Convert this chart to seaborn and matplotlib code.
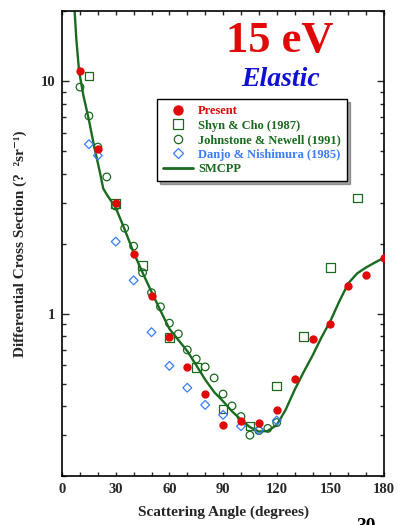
import numpy as np
import pandas as pd
import matplotlib
matplotlib.use('Agg')
import matplotlib.pyplot as plt
import matplotlib.ticker as mticker
from matplotlib.lines import Line2D
import seaborn as sns

sns.set_theme(style='ticks')
plt.rcParams['font.family'] = ['Liberation Serif', 'DejaVu Serif']
plt.rcParams['font.weight'] = 'bold'

C_RED = '#e00808'
C_GREEN = '#1a6a1f'
C_BLUE = '#3a7cff'

# ---- data ----
present_x = [10, 20, 30, 40, 50, 60, 70, 80, 90, 100, 110, 120, 130, 140, 150, 160, 170, 180]
present_y = [11.0, 5.1, 3.0, 1.81, 1.19, 0.79, 0.59, 0.45, 0.332, 0.346, 0.338, 0.386,
             0.526, 0.778, 0.90, 1.31, 1.46, 1.74]

shyn_x = [15, 30, 45, 60, 75, 90, 105, 120, 135, 150, 165]
shyn_y = [10.5, 2.97, 1.61, 0.79, 0.588, 0.389, 0.329, 0.489, 0.796, 1.58, 3.14]

john_x = [10, 15, 20, 25, 30, 35, 40, 45, 50, 55, 60, 65, 70, 75, 80, 85, 90,
          95, 100, 105, 110, 115, 120]
john_y = [9.42, 7.08, 5.2, 3.87, 2.90, 2.33, 1.95, 1.50, 1.23, 1.07, 0.91, 0.818,
          0.698, 0.638, 0.590, 0.529, 0.451, 0.401, 0.361, 0.300, 0.314, 0.321, 0.340]

danjo_x = [15, 20, 30, 40, 50, 60, 70, 80, 90, 100, 110, 120]
danjo_y = [5.35, 4.78, 2.04, 1.39, 0.832, 0.596, 0.480, 0.405, 0.367, 0.328, 0.316, 0.347]

smcpp_x = [7, 8, 9.5, 12, 15, 18, 21, 23, 25, 30, 35, 40, 45, 50, 55, 60, 65, 70, 75,
           80, 85, 90, 95, 100, 105, 110, 115, 120, 125, 130, 135, 140, 145, 150, 155,
           160, 165, 170, 175, 180]
smcpp_y = [20, 15, 11, 8.6, 6.8, 5.2, 4.1, 3.45, 3.25, 2.85, 2.3, 1.83, 1.5, 1.24, 1.03,
           0.86, 0.77, 0.69, 0.60, 0.52, 0.46, 0.42, 0.38, 0.35, 0.325, 0.311, 0.313,
           0.332, 0.386, 0.47, 0.56, 0.66, 0.79, 0.93, 1.13, 1.35, 1.49, 1.58, 1.66, 1.74]

fig = plt.figure(figsize=(3.98, 5.25), dpi=100)
ax = fig.add_axes([0.156, 0.093, 0.809, 0.886])

sns.lineplot(x=smcpp_x, y=smcpp_y, color=C_GREEN, linewidth=1.7, ax=ax, zorder=2)
sns.scatterplot(x=john_x, y=john_y, marker='o', s=30, facecolor='none',
                edgecolor=C_GREEN, linewidth=0.9, ax=ax, zorder=3)
sns.scatterplot(x=shyn_x, y=shyn_y, marker='s', s=38, facecolor='none',
                edgecolor=C_GREEN, linewidth=0.9, ax=ax, zorder=3)
sns.scatterplot(x=danjo_x, y=danjo_y, marker='D', s=20, facecolor='none',
                edgecolor=C_BLUE, linewidth=0.9, ax=ax, zorder=3)
sns.scatterplot(x=present_x, y=present_y, marker='o', s=36, color=C_RED,
                edgecolor=C_RED, linewidth=0, ax=ax, zorder=4)

ax.set_yscale('log')
ax.set_xlim(0, 180)
ax.set_ylim(0.2, 20)
ax.xaxis.set_major_locator(mticker.MultipleLocator(30))
ax.xaxis.set_minor_locator(mticker.MultipleLocator(10))
ax.yaxis.set_major_locator(mticker.FixedLocator([1, 10]))
ax.yaxis.set_major_formatter(mticker.FixedFormatter(['1', '10']))
ax.yaxis.set_minor_locator(mticker.LogLocator(base=10, subs=np.arange(2, 10)))
ax.yaxis.set_minor_formatter(mticker.NullFormatter())
ax.tick_params(which='both', direction='in', top=True, right=True, width=1.0,
               labelsize=10.5, pad=5)
ax.tick_params(which='major', length=5)
ax.tick_params(which='minor', length=3)
ax.tick_params(axis='x', which='major', length=3)
for lab in ax.get_xticklabels() + ax.get_yticklabels():
    lab.set_fontweight('bold')
for sp in ax.spines.values():
    sp.set_linewidth(1.2)
    sp.set_color('black')

ax.set_xlabel('Scattering Angle (degrees)', fontsize=11, fontweight='bold', labelpad=7)
ax.set_ylabel('Differential Cross Section (?  ²sr⁻¹)', fontsize=11,
              fontweight='bold', labelpad=10)

ax.text(0.675, 0.935, '15 eV', transform=ax.transAxes, ha='center', va='center',
        fontsize=32, fontweight='bold', color=C_RED)
ax.text(0.68, 0.853, 'Elastic', transform=ax.transAxes, ha='center', va='center',
        fontsize=20, fontweight='bold', style='italic', color='#1010d0')

handles = [
    Line2D([], [], marker='o', ls='none', color=C_RED, ms=6.5),
    Line2D([], [], marker='s', ls='none', mfc='none', mec=C_GREEN, ms=7, mew=0.9),
    Line2D([], [], marker='o', ls='none', mfc='none', mec=C_GREEN, ms=6, mew=0.9),
    Line2D([], [], marker='D', ls='none', mfc='none', mec=C_BLUE, ms=5, mew=0.9),
    Line2D([], [], color=C_GREEN, lw=2),
]
labels = ['Present', 'Shyn & Cho (1987)', 'Johnstone & Newell (1991)',
          'Danjo & Nishimura (1985)', 'SMCPP']
leg = ax.legend(handles, labels, loc='upper left', bbox_to_anchor=(0.294, 0.811),
                borderaxespad=0, frameon=True, fancybox=False, shadow=True,
                edgecolor='black', handlelength=2.4, handletextpad=0.4,
                labelspacing=0.2, borderpad=0.5,
                labelcolor=[C_RED, C_GREEN, C_GREEN, C_BLUE, C_GREEN],
                prop={'weight': 'bold', 'size': 9})
leg.get_frame().set_linewidth(1.0)

fig.text(0.92, -0.003, '30', fontsize=14, color='black', ha='center', va='center')

fig.savefig('out.png', dpi=100)
